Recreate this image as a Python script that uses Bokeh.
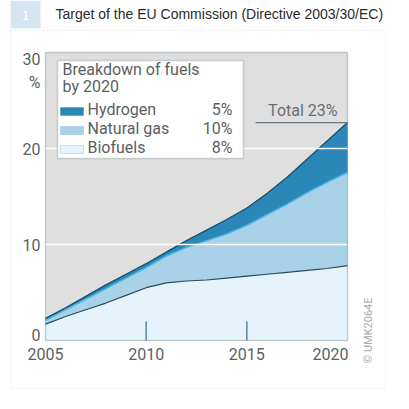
import numpy as np
from bokeh.plotting import figure
from bokeh.models import ColumnDataSource, Label, BoxAnnotation, Range1d
from bokeh.embed import file_html
from bokeh.resources import INLINE

# ---- data ----
years = [2005, 2006, 2007, 2008, 2009, 2010, 2011, 2012,
         2013, 2014, 2015, 2016, 2017, 2018, 2019, 2020]
biofuels = [1.7, 2.5, 3.2, 3.9, 4.7, 5.5, 6.0, 6.2,
            6.3, 6.5, 6.7, 6.9, 7.1, 7.3, 7.5, 7.8]
natural_gas = [0.4, 0.7, 1.1, 1.5, 1.8, 2.1, 2.8, 3.5,
               4.1, 4.6, 5.3, 6.2, 7.1, 8.1, 9.0, 9.7]
hydrogen = [0.2, 0.2, 0.3, 0.4, 0.4, 0.4, 0.4, 0.7,
            1.1, 1.5, 1.8, 2.2, 2.8, 3.5, 4.3, 5.2]
x_ticks = [2005, 2010, 2015, 2020]
y_ticks = [0, 10, 20, 30]
legend_names = ["Hydrogen", "Natural gas", "Biofuels"]
legend_shares = ["5%", "10%", "8%"]
legend_title = ["Breakdown of fuels", "by 2020"]
total_text = "Total 23%"
title_text = "Target of the EU Commission (Directive 2003/30/EC)"

# ---- styling ----
C_H2 = "#2a87b8"
C_GAS = "#a9d2e9"
C_BIO = "#e5f4fb"
C_BG = "#dfdfdf"
C_TXT = "#5b5f63"
FONT = "Roboto"

W, H = 400, 400
PL, PR, PT, PB = 45, 347, 52, 340   # inner plot area in canvas pixels
Y0, Y1 = y_ticks[0], y_ticks[-1]
X0, X1 = years[0], years[-1]
kx = (X1 - X0) / (PR - PL)
ky = (Y1 - Y0) / (PB - PT)

# the frame fills the whole canvas; ranges are extended so the data area sits at PL..PR, PT..PB
p = figure(width=W, height=H, output_backend="svg", toolbar_location=None,
           x_range=Range1d(X0 - PL * kx, X1 + (W - PR) * kx),
           y_range=Range1d(Y0 - (H - PB) * ky, Y1 + PT * ky),
           min_border=0)
p.axis.visible = False
p.grid.visible = False
p.outline_line_color = None
p.background_fill_color = "white"
p.border_fill_color = "white"

# plot-area background
p.add_layout(BoxAnnotation(left=X0, right=X1, bottom=Y0, top=Y1, fill_color=C_BG,
                           fill_alpha=1, line_alpha=0, level="underlay"))

bio = np.array(biofuels)
gas_top = bio + np.array(natural_gas)
tot = gas_top + np.array(hydrogen)

src = ColumnDataSource(dict(year=years, bio=biofuels, gas=natural_gas, h2=hydrogen,
                            bio_top=bio, gas_top=gas_top, tot=tot))
p.varea_stack(stackers=["bio", "gas", "h2"], x="year", color=[C_BIO, C_GAS, C_H2], source=src)
p.line("year", "tot", source=src, line_color="#1f4f6c", line_width=1.3)
p.line("year", "gas_top", source=src, line_color="#4db4e4", line_width=1.5)
p.line("year", "bio_top", source=src, line_color="#2c4a5c", line_width=1.2)

# inner ticks at the x positions
inner = [t for t in x_ticks[1:-1]]
p.segment(x0=inner, x1=inner, y0=[Y0] * len(inner), y1=[Y0 + 19 * ky] * len(inner),
          line_color="#5f8593", line_width=1.5)

# white grid lines over the areas
p.segment(x0=[X0] * 2, x1=[X1] * 2, y0=y_ticks[1:-1], y1=y_ticks[1:-1],
          line_color="white", line_width=1.5)

# frame outline
p.add_layout(BoxAnnotation(left=X0, right=X1, bottom=Y0, top=Y1, fill_alpha=0,
                           line_color="#50707e", line_width=1.5))

# screen units: origin at the canvas' bottom-left corner
def sx(px):
    return px

def sy(py):
    return H - py

def box(l, r, t, b, **kw):
    p.add_layout(BoxAnnotation(left=sx(l), right=sx(r), top=sy(t), bottom=sy(b),
                               left_units="screen", right_units="screen",
                               top_units="screen", bottom_units="screen", **kw))

def label(x, y, text, **kw):
    kw.setdefault("text_font", FONT)
    kw.setdefault("text_color", C_TXT)
    p.add_layout(Label(x=sx(x), y=sy(y), x_units="screen", y_units="screen", text=text, **kw))

# tick labels
xpx = lambda v: PL + (v - X0) / kx
ypx = lambda v: PB - (v - Y0) / ky
for i, t in enumerate(x_ticks):
    last = i == len(x_ticks) - 1
    label(PR + 1 if last else xpx(t), PB + 7, str(t),
          text_align="right" if last else "center", text_baseline="top", text_font_size="16px")
for i, t in enumerate(y_ticks):
    base = "top" if t == y_ticks[-1] else ("bottom" if t == 0 else "middle")
    label(PL - 5, ypx(t), str(t), text_align="right", text_baseline=base, text_font_size="16px")
label(PL - 5, ypx(y_ticks[-1]) + 20, "%", text_align="right", text_baseline="top", text_font_size="16px")

# legend
box(57, 243, 60, 158, fill_color="white", fill_alpha=1, line_color="#6e7377", line_width=1.5)
label(62, 78, legend_title[0], text_font_size="16px")
label(62, 95, legend_title[1], text_font_size="16px")
sw_cols = [C_H2, C_GAS, C_BIO]
sw_line = ["#1f5f85", "#6f9fb8", "#7f9fae"]
for i, (nm, sh) in enumerate(zip(legend_names, legend_shares)):
    top = 107 + i * 19
    box(60, 83, top, top + 8, fill_color=sw_cols[i], fill_alpha=1, line_color=sw_line[i], line_width=1)
    label(87, top + 11, nm, text_font_size="16px")
    label(232, top + 11, sh, text_align="right", text_font_size="16px")

# total annotation
p.segment(x0=[X0 + (255 - PL) * kx], x1=[X1], y0=[tot[-1]], y1=[tot[-1]],
          line_color="#6a7a84", line_width=1.2)
label(PR - 10, ypx(tot[-1]) - 3, total_text, text_align="right", text_font_size="16px",
      text_color="#6b6f73")

# outer frame / title
box(10, 385, 30, 388, fill_alpha=0, line_color="#c8c8c8", line_width=1, line_dash="2 2")
box(10, 40, 0, 28, fill_color="#d5e6f1", fill_alpha=1, line_alpha=0)
label(25, 15, "1", text_align="center", text_baseline="middle", text_color="white",
      text_font_size="13px", text_font="Liberation Sans")
label(55, 21, title_text, text_font_size="14px", text_color="#2a2a2a",
      text_font="Liberation Sans")
label(368, 330, "\u00a9 UMK2064E", angle=np.pi / 2, text_align="center",
      text_baseline="middle", text_font_size="11px", text_color="#a9a9a9")

open("out.html", "w").write(file_html(p, INLINE))
